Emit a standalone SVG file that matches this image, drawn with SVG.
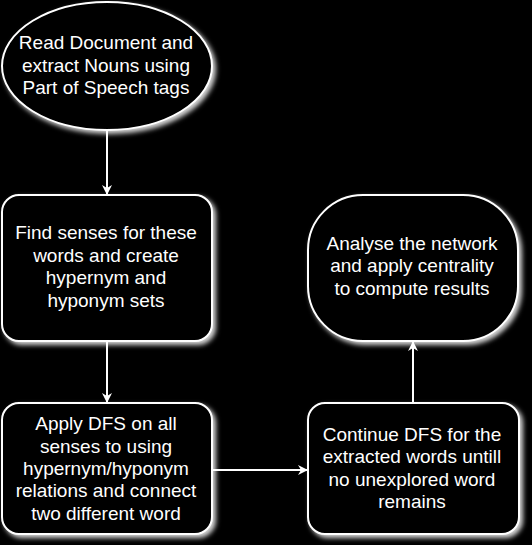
<svg xmlns="http://www.w3.org/2000/svg" width="532" height="545" viewBox="0 0 532 545">
<defs>
<filter id="glow" x="-10%" y="-10%" width="125%" height="125%">
<feGaussianBlur in="SourceAlpha" stdDeviation="2.5" result="b"/>
<feOffset in="b" dx="3" dy="3" result="o"/>
<feFlood flood-color="#ffffff" flood-opacity="0.85"/>
<feComposite in2="o" operator="in" result="s"/>
<feMerge><feMergeNode in="s"/><feMergeNode in="SourceGraphic"/></feMerge>
</filter>
<marker id="arr" viewBox="0 0 10 10" refX="9" refY="5" markerWidth="10" markerHeight="10" markerUnits="userSpaceOnUse" orient="auto">
<path d="M0,0 L10,5 L0,10 L3,5 Z" fill="#ffffff"/>
</marker>
</defs>
<style>
.shape{fill:#000000;stroke:#ffffff;stroke-width:2;filter:url(#glow)}
.lbl{font-family:"Liberation Sans",Arial,sans-serif;font-size:19px;fill:#ffffff;text-anchor:middle}
.edge{fill:none;stroke:#ffffff;stroke-width:2;marker-end:url(#arr)}
</style>
<rect x="0" y="0" width="532" height="545" fill="#000000"/>
<g id="connectors">
<path class="edge" d="M107,131 L107,194"/>
<path class="edge" d="M107,341 L107,402"/>
<path class="edge" d="M212,470 L307,470"/>
<path class="edge" d="M413,403 L413,342"/>
</g>
<g id="n1">
<ellipse class="shape" cx="107" cy="66" rx="105" ry="64"/>
<text class="lbl" x="106" y="49">Read Document and</text>
<text class="lbl" x="106" y="72">extract Nouns using</text>
<text class="lbl" x="106" y="94">Part of Speech tags</text>
</g>
<g id="n2">
<rect class="shape" x="2" y="195" width="210" height="146" rx="17" ry="17"/>
<text class="lbl" x="106" y="239">Find senses for these</text>
<text class="lbl" x="106" y="262">words and create</text>
<text class="lbl" x="106" y="284">hypernym and</text>
<text class="lbl" x="106" y="307">hyponym sets</text>
</g>
<g id="n3">
<rect class="shape" x="2" y="403" width="210" height="131" rx="17" ry="17"/>
<text class="lbl" x="106" y="430">Apply DFS on all</text>
<text class="lbl" x="106" y="453">senses to using</text>
<text class="lbl" x="106" y="475">hypernym/hyponym</text>
<text class="lbl" x="106" y="497">relations and connect</text>
<text class="lbl" x="106" y="520">two different word</text>
</g>
<g id="n4">
<rect class="shape" x="308" y="403" width="211" height="131" rx="17" ry="17"/>
<text class="lbl" x="412" y="441">Continue DFS for the</text>
<text class="lbl" x="412" y="463">extracted words untill</text>
<text class="lbl" x="412" y="486">no unexplored word</text>
<text class="lbl" x="412" y="508">remains</text>
</g>
<g id="n5">
<rect class="shape" x="308" y="195" width="210" height="146" rx="55" ry="55"/>
<text class="lbl" x="412" y="250">Analyse the network</text>
<text class="lbl" x="412" y="272">and apply centrality</text>
<text class="lbl" x="412" y="295">to compute results</text>
</g>
</svg>
